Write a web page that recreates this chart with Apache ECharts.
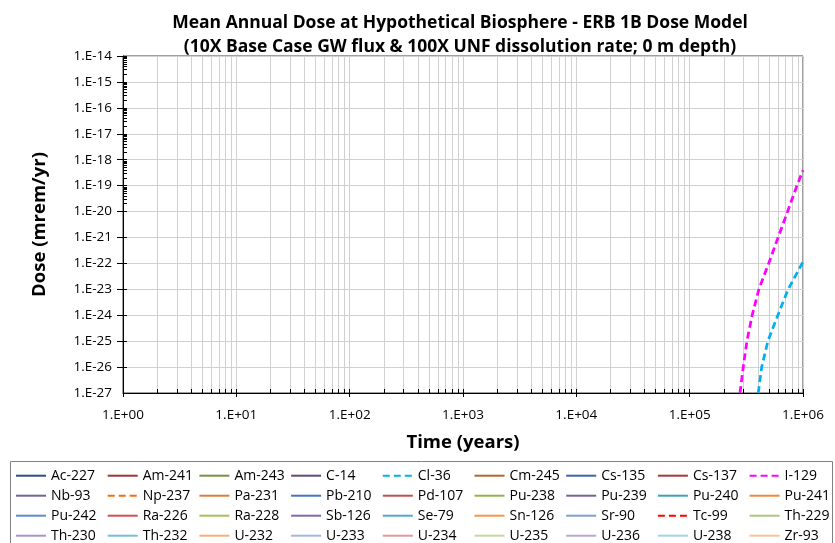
<!DOCTYPE html>
<html><head><meta charset="utf-8">
<script src="https://cdn.jsdelivr.net/npm/echarts@6/dist/echarts.min.js"></script>
<style>html,body{margin:0;padding:0;background:#fff}#c{width:835px;height:543px}</style>
</head><body><div id="c"></div>
<script>
// ---- data ----
const nuclides = [
  'Ac-227','Am-241','Am-243','C-14','Cl-36','Cm-245','Cs-135','Cs-137','I-129',
  'Nb-93','Np-237','Pa-231','Pb-210','Pd-107','Pu-238','Pu-239','Pu-240','Pu-241',
  'Pu-242','Ra-226','Ra-228','Sb-126','Se-79','Sn-126','Sr-90','Tc-99','Th-229',
  'Th-230','Th-232','U-232','U-233','U-234','U-235','U-236','U-238','Zr-93'
];
// time (years) and mean annual dose (mrem/yr) for nuclides visible above 1E-27
const i129Time = [2.78e5, 2.97e5, 3.2e5, 3.56e5, 4.08e5, 4.98e5, 6.03e5, 7.31e5, 8.84e5, 1e6];
const i129Dose = [1e-27, 1e-26, 1e-25, 1e-24, 1e-23, 1e-22, 1e-21, 1e-20, 1e-19, 3.9e-19];
const cl36Time = [4.03e5, 4.32e5, 4.9e5, 6.0e5, 7.4e5, 8.6e5, 1e6];
const cl36Dose = [1e-27, 1e-26, 1e-25, 1e-24, 1e-23, 3.4e-23, 1.15e-22];
const xTickLabels = ['1.E+00','1.E+01','1.E+02','1.E+03','1.E+04','1.E+05','1.E+06'];
const yTickLabels = ['1.E-27','1.E-26','1.E-25','1.E-24','1.E-23','1.E-22','1.E-21','1.E-20',
                     '1.E-19','1.E-18','1.E-17','1.E-16','1.E-15','1.E-14'];
const yMin = 1e-27, yMax = 1e-14;

// ---- styles ----
const colors = {
  'Ac-227':'#2C4D7E','Am-241':'#9B3634','Am-243':'#76923C','C-14':'#5F4A7B','Cl-36':'#00B0F0',
  'Cm-245':'#B6652A','Cs-135':'#3A65A6','Cs-137':'#A53B38','I-129':'#FF00FF',
  'Nb-93':'#7560A0','Np-237':'#F07010','Pa-231':'#E07B39','Pb-210':'#4472C4','Pd-107':'#C0504D',
  'Pu-238':'#8EB44F','Pu-239':'#7A5E9E','Pu-240':'#3FA0BC','Pu-241':'#EE8A3E',
  'Pu-242':'#5B8CD0','Ra-226':'#D0504D','Ra-228':'#A2C35A','Sb-126':'#8568AA','Se-79':'#4BACC6',
  'Sn-126':'#F79646','Sr-90':'#7F9FD0','Tc-99':'#FF0000','Th-229':'#A9C884',
  'Th-230':'#A894C6','Th-232':'#78BDD2','U-232':'#F8AE78','U-233':'#A3B6DF','U-234':'#D99A98',
  'U-235':'#C3D8A0','U-236':'#B7A8CE','U-238':'#A6D3E2','Zr-93':'#F9C19C'
};
const dashed = {'Cl-36':true,'Np-237':true,'I-129':true,'Tc-99':true};
const seriesData = {
  'I-129': i129Time.map((t,i)=>[t, i129Dose[i]]),
  'Cl-36': cl36Time.map((t,i)=>[t, cl36Dose[i]])
};

const series = nuclides.map(n => ({
  name: n, type: 'line', data: seriesData[n] || [], symbol: 'none', showSymbol: false,
  clip: true, animation: false, xAxisIndex: 0, yAxisIndex: 0,
  lineStyle: {color: colors[n], width: 2.75, type: dashed[n] ? [7, 4] : 'solid'},
  itemStyle: {color: colors[n]}
}));

const FONT = 'Open Sans';
// one legend per column so columns line up like the reference
const legends = [0,1,2,3,4,5,6,7,8].map(c => ({
  data: [0,1,2,3].map(r => nuclides[r*9 + c]),
  left: 15 + c * 91.7, top: 468.7, orient: 'vertical',
  itemWidth: 30, itemHeight: 14, itemGap: 6, padding: 0,
  itemStyle: {opacity: 0},
  textStyle: {fontFamily: FONT, fontSize: 14, lineHeight: 14, color: '#000'},
  selectedMode: false
}));

const baseX = {type: 'log', logBase: 10, min: 1, max: 1e6, interval: 1};
const baseY = {type: 'log', logBase: 10, min: yMin, max: yMax, interval: 1};
const Y_LABEL_MARGIN = 11;
const chart = echarts.init(document.getElementById('c'), null, {renderer: 'canvas'});
chart.setOption({
  animation: false,
  backgroundColor: '#fff',
  title: {
    text: 'Mean Annual Dose at Hypothetical Biosphere - ERB 1B Dose Model\n(10X Base Case GW flux & 100X UNF dissolution rate; 0 m depth)',
    left: 455, top: 6, textAlign: 'center',
    textStyle: {fontFamily: FONT, fontSize: 17.5, fontWeight: 'bold', color: '#000', lineHeight: 24}
  },
  grid: {left: 123, right: 32, top: 56, bottom: 150, show: true, borderColor: '#404040', borderWidth: 1,
    outerBoundsMode: 'none', containLabel: false},
  legend: legends,
  graphic: [{id: 'legendBox', type: 'rect', shape: {x: 10.5, y: 461.5, width: 822, height: 90},
    style: {fill: 'none', stroke: '#808080', lineWidth: 1}, silent: true}],
  xAxis: [Object.assign({}, baseX, {
    position: 'bottom',
    name: 'Time (years)', nameLocation: 'middle', nameGap: 40, nameMoveOverlap: false,
    nameTextStyle: {fontFamily: FONT, fontSize: 18.5, fontWeight: 'bold', color: '#000'},
    axisLine: {show: true, onZero: false, lineStyle: {color: '#000', width: 1}},
    axisTick: {show: true, inside: true, length: 4, lineStyle: {color: '#000'}},
    minorTick: {show: true, splitNumber: 9, length: 4, lineStyle: {color: '#000'}},
    axisLabel: {fontFamily: FONT, fontSize: 13.5, color: '#000', margin: 15,
      showMinLabel: true, showMaxLabel: true, hideOverlap: false,
      formatter: (v, i) => xTickLabels[i]},
    splitLine: {show: true, lineStyle: {color: '#d0d0d0', width: 1}},
    minorSplitLine: {show: true, lineStyle: {color: '#d0d0d0', width: 1}}
  }), Object.assign({}, baseX, {
    position: 'bottom',
    axisLine: {show: false, onZero: false}, axisLabel: {show: false},
    axisTick: {show: true, inside: false, length: 4, lineStyle: {color: '#000'}},
    splitLine: {show: false}
  })],
  yAxis: [Object.assign({}, baseY, {
    position: 'left',
    name: 'Dose (mrem/yr)', nameLocation: 'middle', nameGap: 74, nameMoveOverlap: false,
    nameTextStyle: {fontFamily: FONT, fontSize: 18.5, fontWeight: 'bold', color: '#000'},
    axisLine: {show: true, onZero: false, lineStyle: {color: '#000', width: 1}},
    axisTick: {show: true, inside: true, length: 4, lineStyle: {color: '#000'}},
    minorTick: {show: true, splitNumber: 9, length: 4, lineStyle: {color: '#000'}},
    axisLabel: {fontFamily: FONT, fontSize: 13.5, color: '#000', margin: Y_LABEL_MARGIN,
      showMinLabel: true, showMaxLabel: true, hideOverlap: false,
      formatter: (v, i) => yTickLabels[i]},
    splitLine: {show: true, lineStyle: {color: '#d0d0d0', width: 1}},
    minorSplitLine: {show: false}
  }), Object.assign({}, baseY, {
    position: 'left',
    axisLine: {show: false, onZero: false}, axisLabel: {show: false},
    axisTick: {show: true, inside: false, length: 6, lineStyle: {color: '#000'}},
    splitLine: {show: false}
  })],
  series: series
});

// ECharts rounds the 1E-27 minimum tick to 0 (precision limit), so its label is dropped;
// place that one tick label at the position the y scale gives for yMin.
const p = chart.convertToPixel({xAxisIndex: 0, yAxisIndex: 0}, [1, yMin]);
if (p && isFinite(p[0]) && isFinite(p[1])) {
  chart.setOption({graphic: [{id: 'yMinLabel', type: 'text', silent: true,
    x: p[0] - Y_LABEL_MARGIN, y: p[1],
    style: {text: yTickLabels[0], fontFamily: FONT, fontSize: 13.5, fill: '#000',
      align: 'right', verticalAlign: 'middle'}}]});
}
</script></body></html>
